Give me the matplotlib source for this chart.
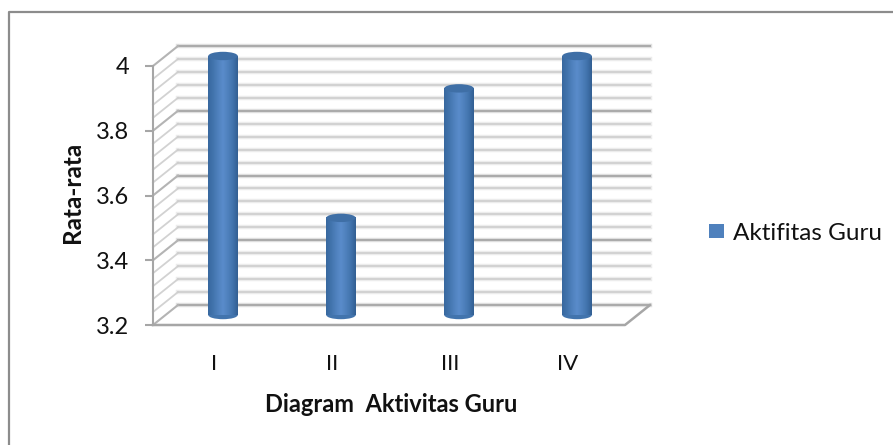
import numpy as np
import matplotlib
matplotlib.use("Agg")
import matplotlib.pyplot as plt
from matplotlib.transforms import ScaledTranslation
from matplotlib.patches import Ellipse, Rectangle
from matplotlib.lines import Line2D
from matplotlib.colors import LinearSegmentedColormap

categories = ["I", "II", "III", "IV"]
values = [4.0, 3.5, 3.9, 4.0]
series_name = "Aktifitas Guru"
y_ticks = [3.2, 3.4, 3.6, 3.8, 4.0]
y_tick_labels = ["3.2", "3.4", "3.6", "3.8", "4"]
minor_levels = [3.24, 3.28, 3.32, 3.36, 3.44, 3.48, 3.52, 3.56, 3.64, 3.68,
                3.72, 3.76, 3.84, 3.88, 3.92, 3.96]

W, H = 893, 445
plt.rcParams['font.family'] = ['Lato', 'DejaVu Sans']
fig = plt.figure(figsize=(W / 100, H / 100), dpi=100)
fig.patch.set_facecolor('white')

# outer frame: only the top and left edges fall inside the picture
fig.add_artist(Line2D([9 / W, 9 / W, 1], [0, 1 - 12 / H, 1 - 12 / H],
                      transform=fig.transFigure, color='#8c8c8c', lw=1.6))

# front plane of the pseudo-3D plot
L, R, T, B = 153, 625, 66, 325
ax = fig.add_axes([L / W, 1 - B / H, (R - L) / W, (B - T) / H])
ax.set_xlim(-0.5, 3.5)
ax.set_ylim(3.2, 4.0)
ax.patch.set_alpha(0)
for s in ['top', 'right', 'bottom']:
    ax.spines[s].set_visible(False)
ax.spines['left'].set_color('#a6a6a6')
ax.spines['left'].set_linewidth(1.5)

DX, DY = 25, 20
def px(dx, dy):
    return ScaledTranslation(dx / 100, dy / 100, fig.dpi_scale_trans)
back = ax.transData + px(DX, DY)
mid = ax.transData + px(11, DY / 2)
x0, x1 = ax.get_xlim()

# back wall lines and side wall diagonals
for lev in minor_levels:
    ax.plot([x0, x1], [lev, lev], transform=back, color='#ececec', lw=3.2, clip_on=False, zorder=1)
    ax.plot([x0, x1], [lev, lev], transform=back, color='#cdcdcd', lw=1.2, clip_on=False, zorder=1.1)
    p0 = ax.transData.transform((x0, lev))
    ax.plot([p0[0], p0[0] + DX], [p0[1], p0[1] + DY], transform=None,
            color='#d2d2d2', lw=1.3, clip_on=False, zorder=1)
for lev in y_ticks:
    ax.plot([x0, x1], [lev, lev], transform=back, color='#e2e2e2', lw=3.2, clip_on=False, zorder=1.2)
    ax.plot([x0, x1], [lev, lev], transform=back, color='#ababab', lw=1.5, clip_on=False, zorder=1.3)
    p0 = ax.transData.transform((x0, lev))
    ax.plot([p0[0], p0[0] + DX], [p0[1], p0[1] + DY], transform=None,
            color='#b4b4b4', lw=1.5, clip_on=False, zorder=1.3)

# floor edges
pa = ax.transData.transform((x0, 3.2))
pb = ax.transData.transform((x1, 3.2))
ax.plot([pa[0], pb[0], pb[0] + DX], [pa[1], pb[1], pb[1] + DY], transform=None,
        color='#a6a6a6', lw=1.8, clip_on=False, zorder=1.4)

# cylinders
cmap = LinearSegmentedColormap.from_list(
    'cyl', ['#38689f', '#4274ad', '#4f81bd', '#5a8ccb', '#4f81bd', '#4274ad', '#335f93'])
grad = np.linspace(0, 1, 64).reshape(1, -1)
bar_w = 0.25
ell_h = 0.026
for i, v in enumerate(values):
    ax.bar(i, v - 3.2, bottom=3.2, width=bar_w, color='#4f81bd',
           transform=mid, zorder=3, clip_on=False)
    ax.imshow(grad, cmap=cmap, aspect='auto', transform=mid, zorder=3.1,
              extent=(i - bar_w / 2, i + bar_w / 2, 3.2, v), clip_on=False)
    ax.add_patch(Ellipse((i, 3.2), bar_w, ell_h, transform=mid, fc='#4274ad', ec='none',
                         zorder=3.05, clip_on=False))
    ax.add_patch(Ellipse((i, v), bar_w, ell_h, transform=mid, fc='#3f6fa6', ec='none',
                         zorder=3.2, clip_on=False))
ax.set_xlim(x0, x1)
ax.set_ylim(3.2, 4.0)

ax.set_xticks(range(len(categories)), categories)
ax.set_yticks(y_ticks, y_tick_labels)
ax.tick_params(axis='x', length=0, pad=21, labelsize=16, labelcolor='#111111')
ax.tick_params(axis='y', length=6, width=1.5, color='#a6a6a6', pad=11,
               labelsize=17, labelcolor='#111111')
for lab in ax.get_xticklabels():
    lab.set_transform(lab.get_transform() + px(2, 0))

fig.text(73 / W, 1 - 192 / H, "Rata-rata", rotation=90, ha='center', va='center',
         fontsize=17.5, fontweight='bold', color='#111111')
fig.text(391 / W, 1 - 404 / H, "Diagram  Aktivitas Guru", ha='center', va='center',
         fontsize=17, fontweight='bold', color='#111111')

# legend
fig.add_artist(Rectangle((709 / W, 1 - 238 / H), 15 / W, 14 / H, transform=fig.transFigure,
                         fc='#4f81bd', ec='none'))
fig.text(733 / W, 1 - 233 / H, series_name, ha='left', va='center', fontsize=17.5, color='#111111')

fig.savefig('out.png', dpi=100)
